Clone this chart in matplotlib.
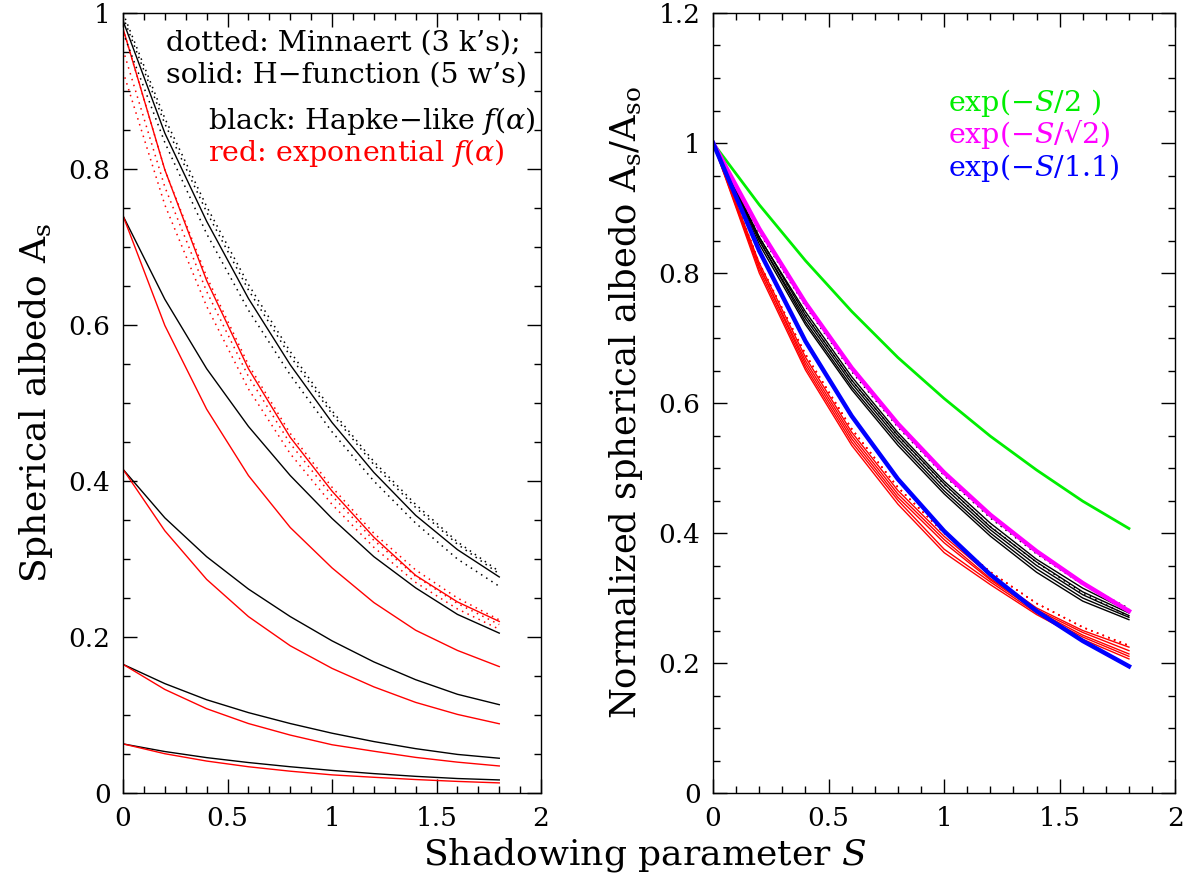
import matplotlib
matplotlib.use('Agg')
import matplotlib.pyplot as plt
from matplotlib.ticker import MultipleLocator, FormatStrFormatter
import numpy as np

plt.rcParams['font.family'] = ['DejaVu Serif']
plt.rcParams['mathtext.fontset'] = 'dejavuserif'

S = [0.0, 0.2, 0.4, 0.6, 0.8, 1.0, 1.2, 1.4, 1.6, 1.8]

# H-function (5 w's), Hapke-like f(alpha) -- black solid
hapke_h = [
    [0.99, 0.846, 0.733, 0.634, 0.549, 0.475, 0.411, 0.356, 0.312, 0.277],
    [0.74, 0.633, 0.544, 0.470, 0.407, 0.352, 0.303, 0.263, 0.229, 0.205],
    [0.415, 0.3528, 0.3030, 0.2615, 0.2262, 0.1951, 0.1681, 0.1453, 0.1266, 0.1133],
    [0.165, 0.1403, 0.1196, 0.1031, 0.0891, 0.0767, 0.0660, 0.0569, 0.0495, 0.0446],
    [0.063, 0.0532, 0.0454, 0.0391, 0.0337, 0.0290, 0.0249, 0.0214, 0.0186, 0.0168],
]
# H-function (5 w's), exponential f(alpha) -- red solid
expo_h = [
    [0.98, 0.799, 0.657, 0.544, 0.456, 0.387, 0.328, 0.279, 0.245, 0.220],
    [0.74, 0.5994, 0.4921, 0.407, 0.3404, 0.2886, 0.2442, 0.2087, 0.1828, 0.1621],
    [0.415, 0.3362, 0.2739, 0.2262, 0.1888, 0.1598, 0.1361, 0.1162, 0.1008, 0.0888],
    [0.165, 0.1328, 0.1081, 0.0891, 0.0743, 0.0619, 0.0536, 0.0457, 0.0396, 0.0347],
    [0.063, 0.0504, 0.0410, 0.0337, 0.0280, 0.0233, 0.0202, 0.0173, 0.0149, 0.0130],
]
# Minnaert (3 k's) -- dotted
hapke_m = [
    [1.0, 0.865, 0.752, 0.652, 0.566, 0.490, 0.425, 0.370, 0.322, 0.284],
    [0.995, 0.858, 0.745, 0.645, 0.560, 0.486, 0.421, 0.366, 0.319, 0.281],
    [0.975, 0.834, 0.717, 0.619, 0.536, 0.463, 0.400, 0.346, 0.300, 0.265],
]
expo_m = [
    [0.98, 0.799, 0.662, 0.549, 0.461, 0.392, 0.333, 0.286, 0.250, 0.222],
    [0.953, 0.777, 0.643, 0.534, 0.448, 0.381, 0.324, 0.278, 0.243, 0.216],
    [0.925, 0.754, 0.624, 0.518, 0.435, 0.370, 0.315, 0.270, 0.236, 0.210],
]
# reference curves (right panel)
exp_half = [1.0, 0.905, 0.819, 0.741, 0.670, 0.607, 0.549, 0.497, 0.449, 0.407]
exp_sqrt2 = [1.0, 0.868, 0.754, 0.654, 0.568, 0.493, 0.428, 0.372, 0.323, 0.280]
exp_11 = [1.0, 0.834, 0.695, 0.580, 0.483, 0.403, 0.336, 0.280, 0.234, 0.195]

dot = (0, (1, 3))
green = '#00ee00'

fig = plt.figure(figsize=(11.91, 8.84), dpi=100)
ax1 = fig.add_axes([0.1033, 0.1029, 0.351, 0.8824])
ax2 = fig.add_axes([0.5987, 0.1029, 0.388, 0.8824])

for y in hapke_h:
    ax1.plot(S, y, color='k', lw=1.0)
for y in expo_h:
    ax1.plot(S, y, color='red', lw=1.0)
for y in hapke_m:
    ax1.plot(S, y, color='k', lw=1.1, linestyle=dot)
for y in expo_m:
    ax1.plot(S, y, color='red', lw=1.1, linestyle=dot)

for y in hapke_h:
    y = np.array(y)
    ax2.plot(S, y / y[0], color='k', lw=1.0)
for y in expo_h:
    y = np.array(y)
    ax2.plot(S, y / y[0], color='red', lw=1.0)
for y in hapke_m:
    y = np.array(y)
    ax2.plot(S, y / y[0], color='k', lw=1.1, linestyle=dot)
for y in expo_m:
    y = np.array(y)
    ax2.plot(S, y / y[0], color='red', lw=1.1, linestyle=dot)
ax2.plot(S, exp_half, color=green, lw=2.0)
ax2.plot(S, exp_sqrt2, color='magenta', lw=3.2)
ax2.plot(S, exp_11, color='blue', lw=3.2)

for ax, ymax in [(ax1, 1.0), (ax2, 1.2)]:
    ax.set_xlim(0, 2)
    ax.set_ylim(0, ymax)
    ax.xaxis.set_major_locator(MultipleLocator(0.5))
    ax.xaxis.set_minor_locator(MultipleLocator(0.1))
    ax.yaxis.set_major_locator(MultipleLocator(0.2))
    ax.yaxis.set_minor_locator(MultipleLocator(0.05))
    ax.xaxis.set_major_formatter(FormatStrFormatter('%g'))
    ax.yaxis.set_major_formatter(FormatStrFormatter('%g'))
    ax.tick_params(which='both', direction='in', top=True, right=True,
                   labelsize=19, width=1.0)
    ax.tick_params(which='major', length=10, pad=9)
    ax.tick_params(which='minor', length=5)
    for sp in ax.spines.values():
        sp.set_linewidth(1.0)

ax1.set_ylabel('Spherical albedo A$_\\mathrm{s}$', fontsize=26, labelpad=10)
ax2.set_ylabel('Normalized spherical albedo A$_\\mathrm{s}$/A$_\\mathrm{so}$',
               fontsize=25.5, labelpad=10)
fig.text(0.541, 0.033, 'Shadowing parameter $S$', fontsize=26,
         ha='center', va='center')

fs = 20.5
ax1.text(0.103, 0.9615, "dotted: Minnaert (3 k\u2019s);", fontsize=fs,
         transform=ax1.transAxes, va='center')
ax1.text(0.103, 0.9205, "solid: H\u2212function (5 w\u2019s)", fontsize=fs,
         transform=ax1.transAxes, va='center')
ax1.text(0.203, 0.8615, "black: Hapke\u2212like $f(\\alpha)$", fontsize=fs,
         transform=ax1.transAxes, va='center')
ax1.text(0.203, 0.8205, "red: exponential $f(\\alpha)$", fontsize=fs,
         color='red', transform=ax1.transAxes, va='center')

ax2.text(0.509, 0.8846, "exp(\u2212$S$/2 )", fontsize=fs, color=green,
         transform=ax2.transAxes, va='center')
ax2.text(0.509, 0.8436, "exp(\u2212$S$/\u221a2)", fontsize=fs, color='magenta',
         transform=ax2.transAxes, va='center')
ax2.text(0.509, 0.8013, "exp(\u2212$S$/1.1)", fontsize=fs, color='blue',
         transform=ax2.transAxes, va='center')

fig.savefig('out.png', dpi=100)
